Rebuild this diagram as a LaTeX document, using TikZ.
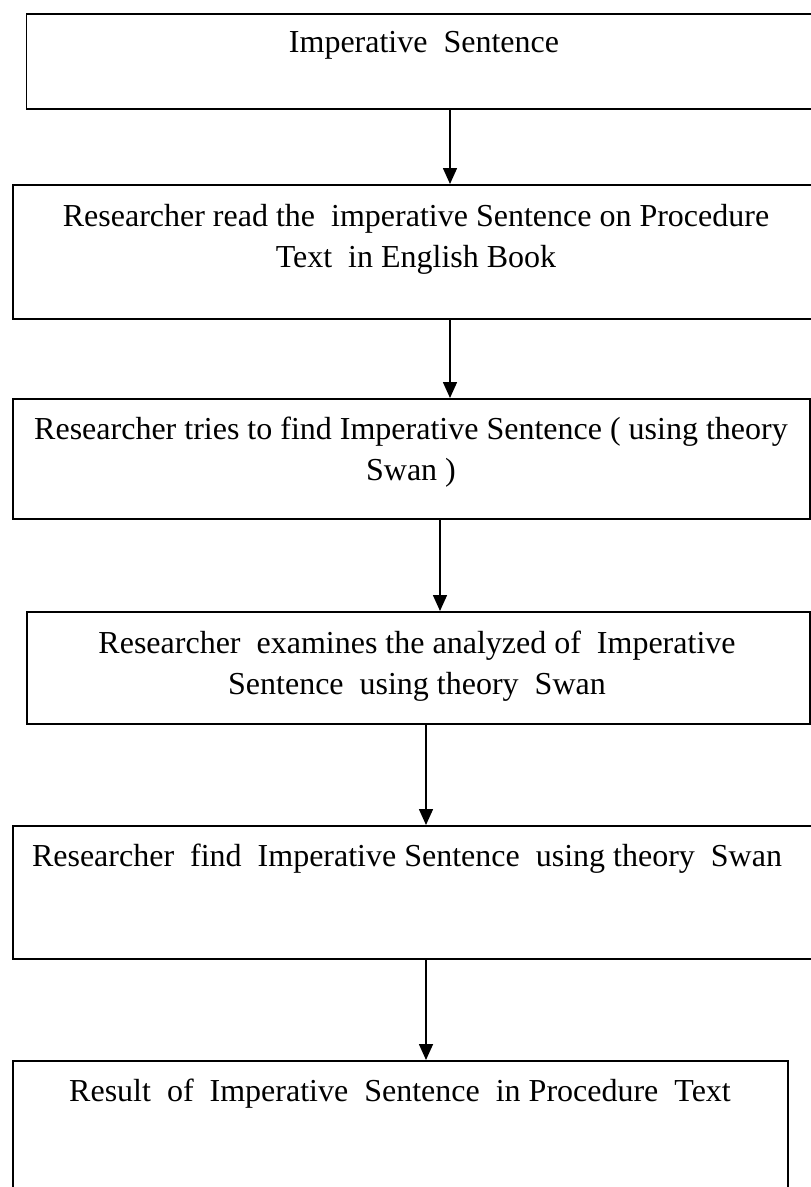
\documentclass[tikz,border=0pt]{standalone}
\usepackage{fontspec}
\setmainfont{Liberation Serif}
\usetikzlibrary{arrows.meta}
\tikzset{
  box/.style={draw, line width=1.6pt, rectangle, inner sep=0pt},
  txt/.style={inner sep=0pt, align=center, font=\fontsize{32}{41}\selectfont},
  arr/.style={line width=1.6pt, -{Triangle[width=14pt,length=16pt]}}
}
\begin{document}
\begin{tikzpicture}[x=1pt,y=1pt]
\useasboundingbox (0,0) rectangle (811,-1187);
% boxes
\node[box, minimum width=800pt, minimum height=95pt, anchor=north west] (b1) at (25.7,-13) {};
\node[box, minimum width=813pt, minimum height=134pt, anchor=north west] (b2) at (12,-184) {};
\node[box, minimum width=797pt, minimum height=120pt, anchor=north west] (b3) at (12,-398) {};
\node[box, minimum width=783pt, minimum height=112pt, anchor=north west] (b4) at (26,-611) {};
\node[box, minimum width=813pt, minimum height=133pt, anchor=north west] (b5) at (12,-825) {};
\node[box, minimum width=775pt, minimum height=140pt, anchor=north west] (b6) at (12,-1060) {};
% texts
\node[txt] (t1) at (424,-45) {Imperative\ \ Sentence};
\node[txt] (t2) at (416,-239.5) {Researcher read the\ \ imperative Sentence on Procedure\\Text\ \ in English Book};
\node[txt] (t3) at (411,-452) {Researcher tries to find Imperative Sentence ( using theory\\Swan )};
\node[txt] (t4) at (417,-666) {Researcher\ \ examines the analyzed of\ \ Imperative\\Sentence\ \ using theory\ \ Swan};
\node[txt] (t5) at (407,-859) {Researcher\ \ find\ \ Imperative Sentence\ \ using theory\ \ Swan};
\node[txt] (t6) at (400,-1094) {Result\ \ of\ \ Imperative\ \ Sentence\ \ in Procedure\ \ Text};
% arrows
\draw[arr] (b1.south -| 450,0) -- (b2.north -| 450,0);
\draw[arr] (b2.south -| 450,0) -- (b3.north -| 450,0);
\draw[arr] (b3.south -| 440,0) -- (b4.north -| 440,0);
\draw[arr] (b4.south -| 426,0) -- (b5.north -| 426,0);
\draw[arr] (b5.south -| 426,0) -- (b6.north -| 426,0);
\end{tikzpicture}
\end{document}
